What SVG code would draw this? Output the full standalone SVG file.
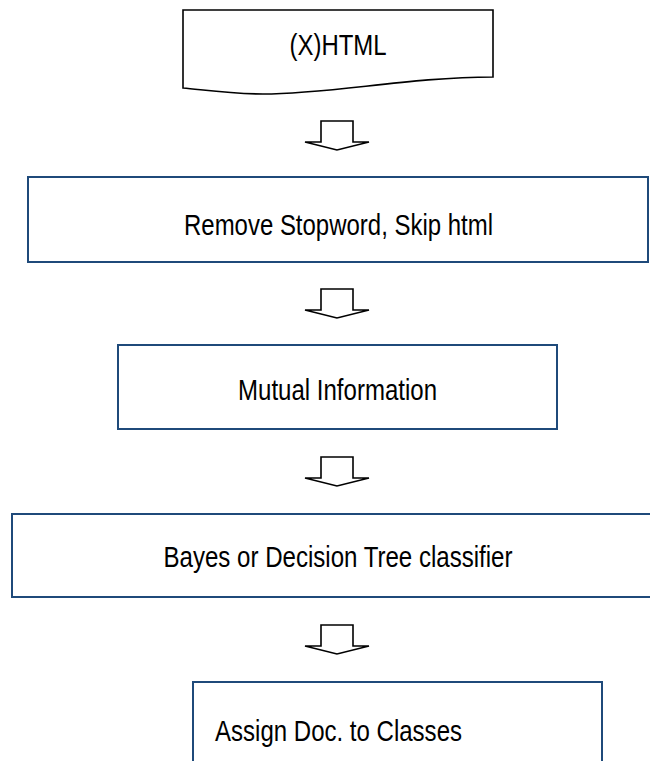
<svg xmlns="http://www.w3.org/2000/svg" width="650" height="761" viewBox="0 0 650 761">
<style>
.box{fill:#fff;stroke:#1f4a7a;stroke-width:2}
.doc{fill:#fff;stroke:#000;stroke-width:1.6}
.arr{fill:#fff;stroke:#000;stroke-width:1.6;stroke-linejoin:miter}
.t{font-family:"Liberation Sans",Arial,sans-serif;font-size:29px;fill:#000;text-anchor:middle}
</style>
<rect width="650" height="761" fill="#fff"/>
<g id="n1">
<path class="doc" d="M183,10 H493 V77 C410,77 330,94 263,94 C230,94 205,90 183,88 Z"/>
<text class="t" x="338" y="55" textLength="97" lengthAdjust="spacingAndGlyphs">(X)HTML</text>
</g>
<g id="n2">
<rect class="box" x="28" y="177" width="620" height="85"/>
<text class="t" x="338.5" y="235" textLength="309" lengthAdjust="spacingAndGlyphs">Remove Stopword, Skip html</text>
</g>
<g id="n3">
<rect class="box" x="118" y="345" width="439" height="84"/>
<text class="t" x="337.5" y="400" textLength="199" lengthAdjust="spacingAndGlyphs">Mutual Information</text>
</g>
<g id="n4">
<rect class="box" x="12" y="514" width="642" height="83"/>
<text class="t" x="338" y="567" textLength="349" lengthAdjust="spacingAndGlyphs">Bayes or Decision Tree classifier</text>
</g>
<g id="n5">
<rect class="box" x="193" y="682" width="409" height="90"/>
<text class="t" x="338.5" y="741" textLength="247" lengthAdjust="spacingAndGlyphs">Assign Doc. to Classes</text>
</g>
<g id="connectors">
<path class="arr" d="M321,121 H353 V142 H369 L337,150 L305,142 H321 Z"/>
<path class="arr" d="M321,289 H353 V310 H369 L337,318 L305,310 H321 Z"/>
<path class="arr" d="M321,457 H353 V478 H369 L337,486 L305,478 H321 Z"/>
<path class="arr" d="M321,625 H353 V646 H369 L337,654 L305,646 H321 Z"/>
</g>
</svg>
